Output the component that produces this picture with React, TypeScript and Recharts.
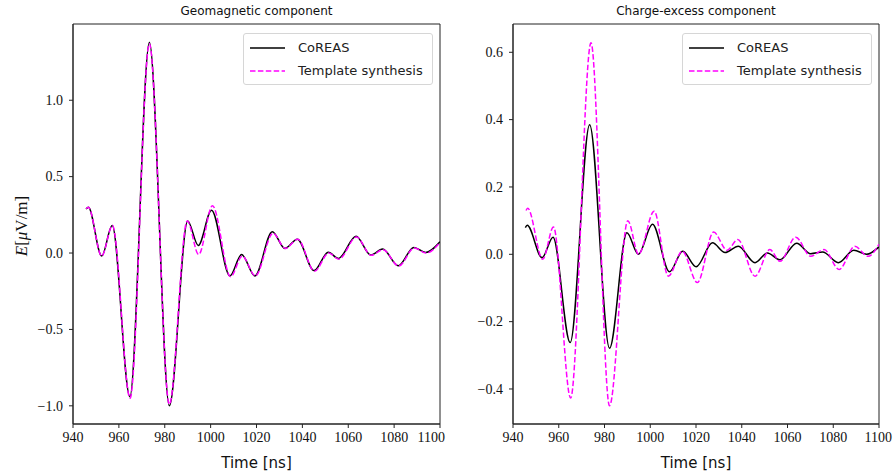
import { LineChart, Line, XAxis, YAxis, Legend, ReferenceArea } from "recharts";

const geoCoreasTime = [945.7, 946.7, 952.5, 957.1, 964.8, 973.3, 982.0, 990.0, 994.6, 1000.4, 1008.4, 1013.5, 1019.3, 1026.9, 1032.4, 1037.8, 1045.1, 1051.3, 1055.7, 1063.4, 1069.8, 1075.0, 1081.8, 1088.6, 1093.7, 1100];
const geoCoreas = [0.288, 0.3, -0.02, 0.18, -0.94, 1.38, -1.0, 0.21, 0.05, 0.28, -0.15, -0.01, -0.15, 0.14, 0.03, 0.09, -0.115, 0.005, -0.035, 0.11, -0.013, 0.026, -0.083, 0.037, 0.004, 0.074];
const geoTemplateTime = [945.7, 946.7, 952.5, 957.2, 964.9, 973.3, 982.0, 989.8, 994.8, 1000.8, 1008.7, 1013.8, 1019.5, 1027.2, 1032.6, 1038.0, 1045.3, 1051.5, 1055.9, 1063.6, 1070.0, 1075.2, 1082.0, 1088.8, 1094.0, 1100];
const geoTemplate = [0.29, 0.3, -0.02, 0.18, -0.95, 1.37, -0.99, 0.21, -0.01, 0.31, -0.155, -0.02, -0.15, 0.13, 0.03, 0.09, -0.12, 0.0, -0.04, 0.105, -0.015, 0.022, -0.085, 0.033, 0.0, 0.07];

// Charge-excess component
const ceCoreasTime = [945.4, 946.2, 952.7, 957.5, 965.0, 973.5, 982.2, 989.8, 994.8, 1001.0, 1008.4, 1014.2, 1020.1, 1027.2, 1032.7, 1038.5, 1045.8, 1051.2, 1056.7, 1064.0, 1070.1, 1075.4, 1082.2, 1089.0, 1094.6, 1100];
const ceCoreas = [0.079, 0.086, -0.01, 0.051, -0.262, 0.385, -0.279, 0.064, 0.0, 0.089, -0.052, 0.009, -0.037, 0.034, 0.005, 0.024, -0.025, 0.004, -0.016, 0.033, 0.002, 0.007, -0.025, 0.012, 0.0, 0.022];
const ceTemplateTime = [945.7, 946.4, 953.0, 957.7, 965.2, 974.1, 982.2, 990.2, 994.9, 1001.7, 1007.9, 1014.0, 1020.6, 1027.7, 1033.6, 1038.3, 1045.8, 1052.3, 1056.7, 1063.6, 1070.1, 1076.0, 1082.6, 1089.4, 1095.2, 1100];
const ceTemplate = [0.13, 0.137, -0.015, 0.081, -0.427, 0.628, -0.45, 0.1, 0.0, 0.128, -0.065, 0.009, -0.084, 0.066, 0.012, 0.044, -0.065, 0.014, -0.021, 0.051, -0.006, 0.014, -0.045, 0.024, -0.006, 0.03];

const timeTicks = [940, 960, 980, 1000, 1020, 1040, 1060, 1080, 1100];
const geoTicks = [-1.0, -0.5, 0.0, 0.5, 1.0];
const ceTicks = [-0.4, -0.2, 0.0, 0.2, 0.4, 0.6];

const seriesNames = ["CoREAS", "Template synthesis"];

const toPoints = (ts: number[], vs: number[]) => ts.map((t, i) => ({ t, v: vs[i] }));

const SERIF = "Liberation Serif";
const SANS = "DejaVu Sans";

const XTick = ({ x, y, payload }: any) => (
  <text x={x} y={y} dy={10.5} textAnchor="middle" fontFamily={SERIF} fontSize={14} fill="#111">
    {payload.value}
  </text>
);

const YTick = ({ x, y, payload }: any) => (
  <text x={x} y={y} dy={4.8} textAnchor="end" fontFamily={SERIF} fontSize={14} fill="#111">
    {Number(payload.value).toFixed(1).replace("-", "\u2212")}
  </text>
);

const LegendBox = () => (
  <div
    style={{
      border: "1px solid #d6d6d6",
      borderRadius: 3,
      background: "#fff",
      padding: "2px 0",
      fontFamily: SANS,
      fontSize: 13,
      color: "#222",
      width: 190,
      boxSizing: "border-box",
    }}
  >
    {seriesNames.map((name, i) => (
      <div key={name} style={{ display: "flex", alignItems: "center", height: 23 }}>
        <svg width={54} height={10} style={{ flex: "none" }}>
          <line
            x1={6}
            x2={41}
            y1={5}
            y2={5}
            stroke={i === 0 ? "#000" : "#ff00ff"}
            strokeWidth={1.5}
            strokeDasharray={i === 0 ? undefined : "5.5 2.4"}
          />
        </svg>
        <span>{name}</span>
      </div>
    ))}
  </div>
);

const YLabel = () => (
  <text
    transform="translate(21,226) rotate(-90)"
    textAnchor="middle"
    dominantBaseline="central"
    fontFamily={SERIF}
    fontSize={17}
    fill="#111"
  >
    <tspan fontStyle="italic">E</tspan>
    <tspan>[</tspan>
    <tspan fontStyle="italic">μ</tspan>
    <tspan>V/m]</tspan>
  </text>
);

interface PanelProps {
  title: string;
  coreas: { t: number; v: number }[];
  template: { t: number; v: number }[];
  yDomain: [number, number];
  yTicks: number[];
  marginLeft: number;
  marginRight: number;
  showYLabel?: boolean;
}

const Panel = ({ title, coreas, template, yDomain, yTicks, marginLeft, marginRight, showYLabel }: PanelProps) => {
  const plotLeft = marginLeft + 40;
  const plotRight = 447 - marginRight;
  return (
    <div style={{ position: "relative", width: 447, height: 472 }}>
      <div
        style={{
          position: "absolute",
          left: plotLeft,
          width: plotRight - plotLeft,
          top: 4,
          textAlign: "center",
          fontFamily: SANS,
          fontSize: 12,
          color: "#111",
        }}
      >
        {title}
      </div>
      <LineChart width={447} height={472} margin={{ top: 24, right: marginRight, bottom: 0, left: marginLeft }}>
        <XAxis
          dataKey="t"
          type="number"
          domain={[940, 1100]}
          ticks={timeTicks}
          allowDataOverflow
          height={48}
          stroke="#222"
          tickSize={4}
          tickMargin={3}
          tick={<XTick />}
          label={{ value: "Time [ns]", position: "insideBottom", offset: 4, fontFamily: SANS, fontSize: 15, fill: "#111" }}
        />
        <YAxis
          type="number"
          domain={yDomain}
          ticks={yTicks}
          allowDataOverflow
          width={40}
          stroke="#222"
          tickSize={4}
          tickMargin={6}
          tick={<YTick />}
          label={showYLabel ? () => <YLabel /> : undefined}
        />
        <ReferenceArea
          x1={940}
          x2={1100}
          y1={yDomain[0]}
          y2={yDomain[1]}
          fill="none"
          fillOpacity={0}
          stroke="#222"
          strokeWidth={1}
          ifOverflow="visible"
        />
        <Legend
          layout="vertical"
          align="center"
          verticalAlign="middle"
          content={() => <LegendBox />}
          wrapperStyle={{ top: 33, left: plotRight - 197, width: 190 }}
        />
        <Line data={coreas} dataKey="v" type="monotone" stroke="#000" strokeWidth={1.5} dot={false} isAnimationActive={false} />
        <Line
          data={template}
          dataKey="v"
          type="monotone"
          stroke="#ff00ff"
          strokeWidth={1.5}
          strokeDasharray="5.5 2.4"
          dot={false}
          isAnimationActive={false}
        />
      </LineChart>
    </div>
  );
};

export default function App() {
  return (
    <div style={{ position: "absolute", left: 0, top: 0, width: 894, height: 472, background: "#fff" }}>
      <div style={{ position: "absolute", left: 0, top: 0 }}>
        <Panel
          title="Geomagnetic component"
          coreas={toPoints(geoCoreasTime, geoCoreas)}
          template={toPoints(geoTemplateTime, geoTemplate)}
          yDomain={[-1.119, 1.499]}
          yTicks={geoTicks}
          marginLeft={33}
          marginRight={7}
          showYLabel
        />
      </div>
      <div style={{ position: "absolute", left: 447, top: 0 }}>
        <Panel
          title="Charge-excess component"
          coreas={toPoints(ceCoreasTime, ceCoreas)}
          template={toPoints(ceTemplateTime, ceTemplate)}
          yDomain={[-0.504, 0.684]}
          yTicks={ceTicks}
          marginLeft={26}
          marginRight={15}
        />
      </div>
    </div>
  );
}
